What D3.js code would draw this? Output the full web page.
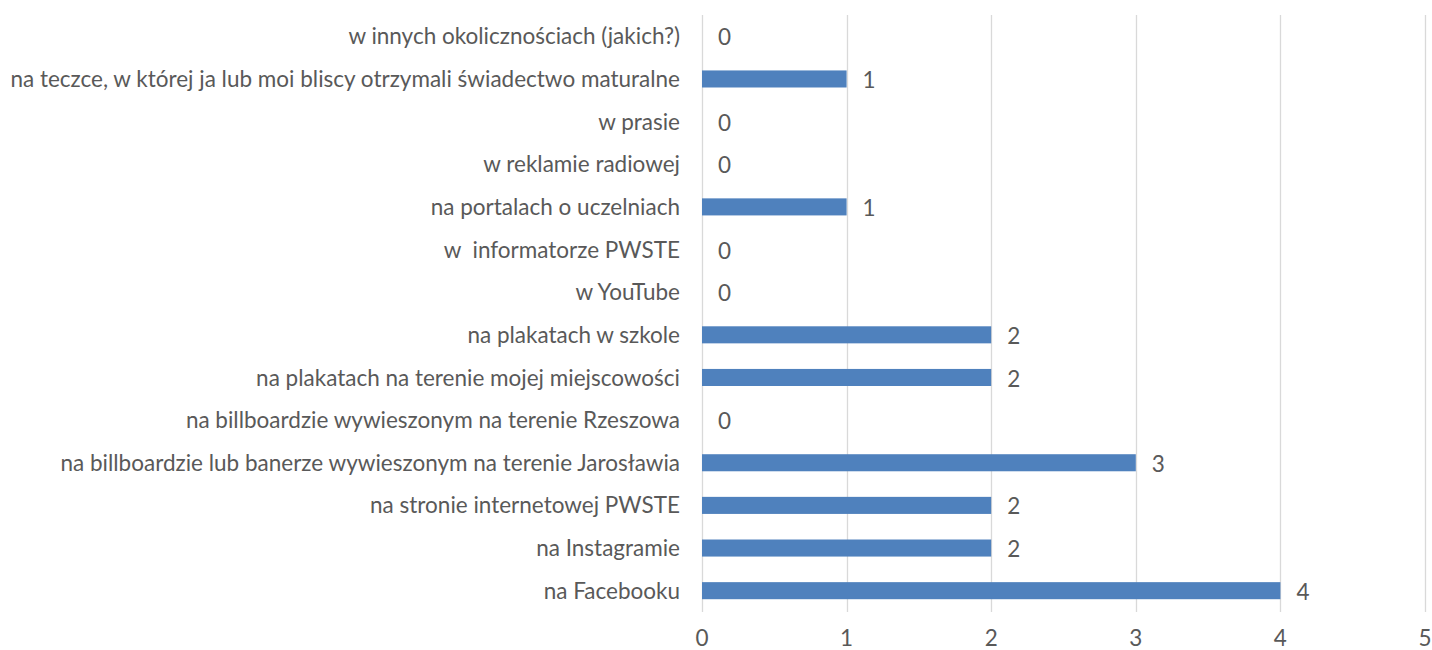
<!DOCTYPE html>
<html><head><meta charset="utf-8">
<script src="https://cdn.jsdelivr.net/npm/d3@7"></script>
<style>body{margin:0;background:#fff}svg{display:block}text{font-family:Lato,"Open Sans",sans-serif;fill:#595959;white-space:pre}</style>
</head><body><svg id="c" width="1432" height="650"></svg>
<script>
const categories = [
  "w innych okolicznościach (jakich?)",
  "na teczce, w której ja lub moi bliscy otrzymali świadectwo maturalne",
  "w prasie",
  "w reklamie radiowej",
  "na portalach o uczelniach",
  "w  informatorze PWSTE",
  "w YouTube",
  "na plakatach w szkole",
  "na plakatach na terenie mojej miejscowości",
  "na billboardzie wywieszonym na terenie Rzeszowa",
  "na billboardzie lub banerze wywieszonym na terenie Jarosławia",
  "na stronie internetowej PWSTE",
  "na Instagramie",
  "na Facebooku"
];
const values = [0,1,0,0,1,0,0,2,2,0,3,2,2,4];
const xTicks = [0,1,2,3,4,5];

const svg = d3.select("#c");
const x = d3.scaleLinear().domain([0,5]).range([702,1425]);
const y = d3.scaleBand().domain(categories).range([15,612]).paddingInner(0.6).paddingOuter(0.3);

// fit font size so the longest label spans the same width as in the reference
const probe = svg.append("text").attr("font-size",20).text(categories[1]);
const w = probe.node().getComputedTextLength();
probe.remove();
const fs = Math.min(24, 20 * 670 / w);

svg.append("g").selectAll("line").data(xTicks).join("line")
  .attr("x1",d=>Math.round(x(d))+0.5).attr("x2",d=>Math.round(x(d))+0.5)
  .attr("y1",15).attr("y2",612).attr("stroke","#d9d9d9").attr("stroke-width",1.3);

svg.append("g").selectAll("rect").data(categories).join("rect")
  .attr("x",x(0)).attr("y",d=>y(d)).attr("width",(d,i)=>x(values[i])-x(0))
  .attr("height",y.bandwidth()).attr("fill","#4f81bd");

svg.append("g").selectAll("text").data(categories).join("text")
  .attr("x",(d,i)=>x(values[i])+16).attr("y",d=>y(d)+y.bandwidth()/2+1)
  .attr("dy","0.36em").attr("font-size",fs).text((d,i)=>values[i]);

svg.append("g").selectAll("text").data(categories).join("text")
  .attr("x",680).attr("y",d=>y(d)+y.bandwidth()/2).attr("dy","0.36em")
  .attr("text-anchor","end").attr("font-size",fs).text(d=>d);

svg.append("g").selectAll("text").data(xTicks).join("text")
  .attr("x",d=>x(d)).attr("y",638).attr("dy","0.36em").attr("text-anchor","middle")
  .attr("font-size",fs).text(d=>d);
</script></body></html>
